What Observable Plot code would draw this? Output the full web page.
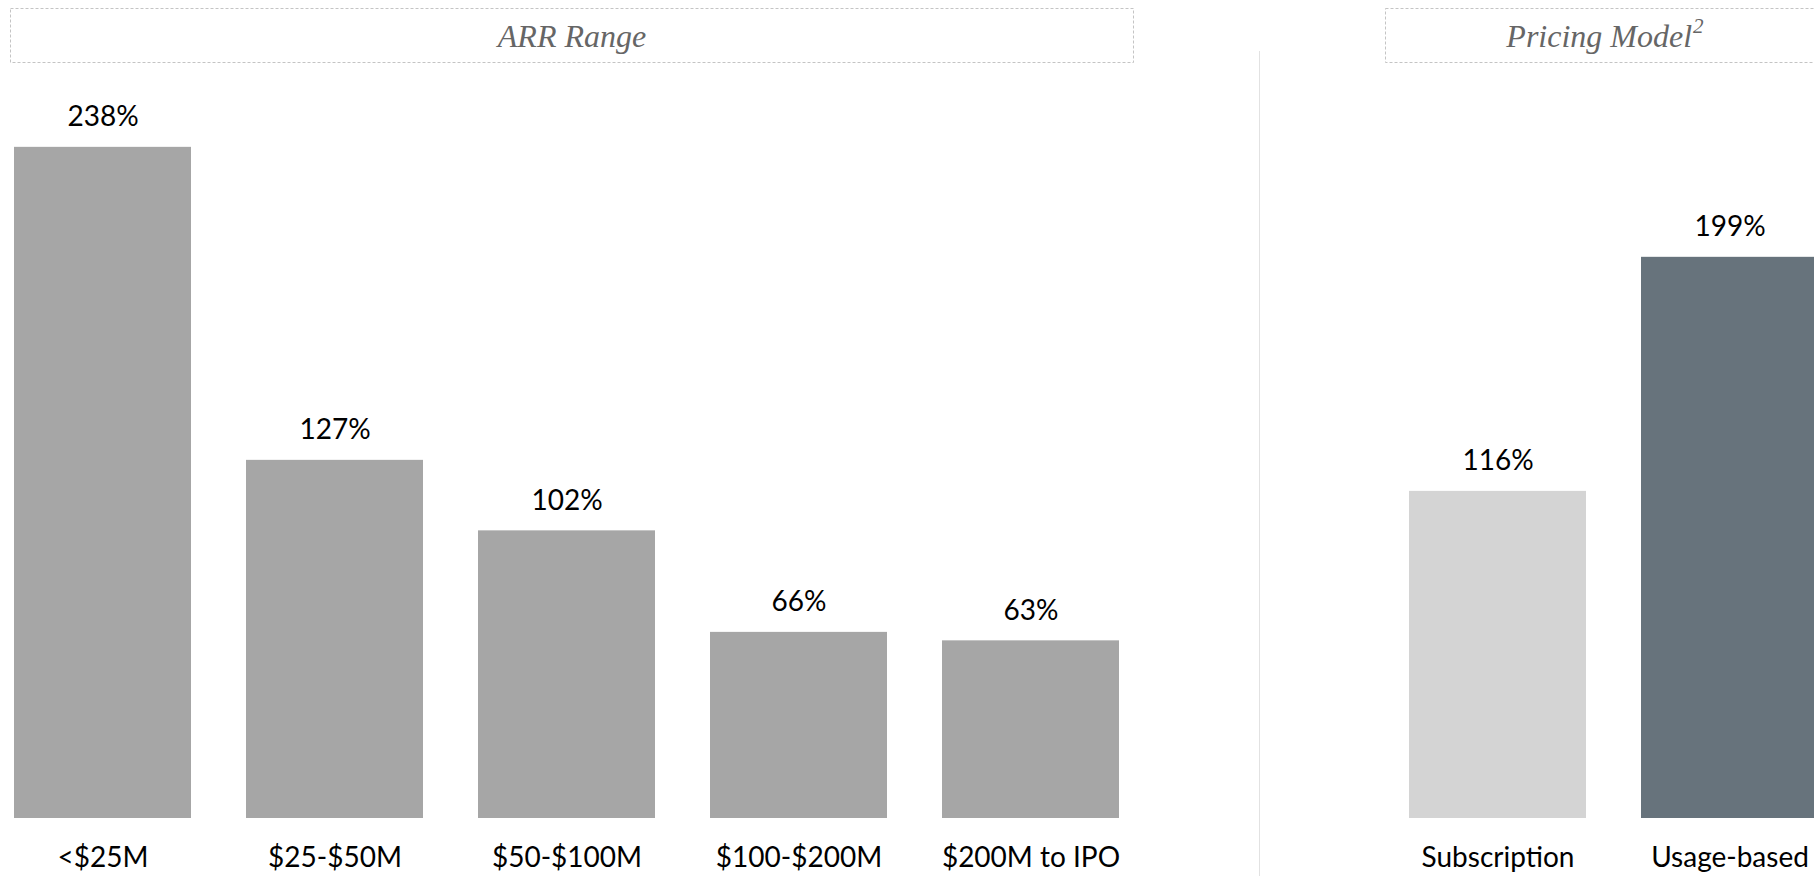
<!DOCTYPE html>
<html>
<head>
<meta charset="utf-8">
<script src="https://cdn.jsdelivr.net/npm/d3@7"></script>
<script src="https://cdn.jsdelivr.net/npm/@observablehq/plot@0.6"></script>
<style>
  html, body { margin: 0; padding: 0; background: #fff; overflow: hidden; }
  #page { position: relative; width: 1814px; height: 876px; overflow: hidden; background: #fff; }
  .panel { position: absolute; top: 0; }
  .titlebox { position: absolute; top: 8px; height: 55px; }
  .titlebox svg { position: absolute; left: 0; top: 0; overflow: visible; }
  .titletext { position: absolute; left: 0; right: 0; top: 0; bottom: 0; display: flex; align-items: center; justify-content: center;
    font-family: "Liberation Serif", "DejaVu Serif", serif; font-style: italic; font-size: 32px; color: #666; letter-spacing: 0px; padding-top: 1px; }
  .titletext .sup { font-size: 0.66em; position: relative; top: -0.45em; margin-left: 1px; }
  .sep { position: absolute; left: 1259px; top: 51px; width: 1px; height: 825px; background: #e2e2e2; }
</style>
</head>
<body>
<div id="page">
  <div class="titlebox" id="box1" style="left:10px;width:1124px;"></div>
  <div class="titlebox" id="box2" style="left:1385px;width:440px;"></div>
  <div class="sep"></div>
  <div class="panel" id="left" style="left:0;width:1150px;"></div>
  <div class="panel" id="right" style="left:1260px;width:600px;"></div>
</div>
<script>
// ---- data ----
const arrTitle = "ARR Range";
const arrCategories = ["<$25M", "$25-$50M", "$50-$100M", "$100-$200M", "$200M to IPO"];
const arrValues = [238, 127, 102, 66, 63];

const pricingTitle = "Pricing Model²";
const pricingCategories = ["Subscription", "Usage-based"];
const pricingValues = [116, 199];

const arrData = arrCategories.map((c, i) => ({category: c, value: arrValues[i]}));
const pricingData = pricingCategories.map((c, i) => ({category: c, value: pricingValues[i]}));

// ---- title boxes ----
function titleBox(id, text) {
  const el = document.getElementById(id);
  const w = el.clientWidth, h = el.clientHeight;
  el.innerHTML = `<svg width="${w}" height="${h}"><rect x="0.5" y="0.5" width="${w - 1}" height="${h - 1}" fill="none" stroke="#c4c4c4" stroke-width="1" stroke-dasharray="3 2"/></svg><div class="titletext"><span class="main"></span></div>`;
  const t = el.querySelector(".titletext");
  const m = text.match(/^(.*?)([²³¹]?)$/);
  t.querySelector(".main").textContent = m[1];
  if (m[2]) {
    const s = document.createElement("span");
    s.className = "sup";
    s.textContent = {"¹": "1", "²": "2", "³": "3"}[m[2]];
    t.appendChild(s);
  }
}
titleBox("box1", arrTitle);
titleBox("box2", pricingTitle);

const yScale = {domain: [0, 250], range: [818, 113]};
const fontStyle = {fontFamily: "Lato, 'Noto Sans', sans-serif", fontSize: "28px", color: "#000", background: "transparent", overflow: "visible"};

// ---- left chart ----
const left = Plot.plot({
  width: 1150,
  height: 876,
  margin: 0,
  style: fontStyle,
  x: {domain: arrCategories, range: [12, 1122], paddingInner: 0.235, paddingOuter: 0, axis: null},
  y: {...yScale, axis: null},
  marks: [
    Plot.barY(arrData, {x: "category", y: "value", fill: "#a6a6a6"}),
    Plot.text(arrData, {x: "category", y: "value", text: d => `${d.value}%`, dy: -30, fill: "#000"}),
    Plot.text(arrData, {x: "category", y: () => 0, text: "category", dy: 40, fill: "#000"})
  ]
});
document.getElementById("left").appendChild(left);

// ---- right chart ----
const right = Plot.plot({
  width: 600,
  height: 876,
  margin: 0,
  style: fontStyle,
  x: {domain: pricingCategories, range: [148, 558.6], paddingInner: 0.235, paddingOuter: 0, axis: null},
  y: {...yScale, axis: null},
  color: {domain: pricingCategories, range: ["#d4d4d4", "#67737c"]},
  marks: [
    Plot.barY(pricingData, {x: "category", y: "value", fill: "category"}),
    Plot.text(pricingData, {x: "category", y: "value", text: d => `${d.value}%`, dy: -30, fill: "#000"}),
    Plot.text(pricingData, {x: "category", y: () => 0, text: "category", dy: 40, fill: "#000"})
  ]
});
document.getElementById("right").appendChild(right);
</script>
</body>
</html>
